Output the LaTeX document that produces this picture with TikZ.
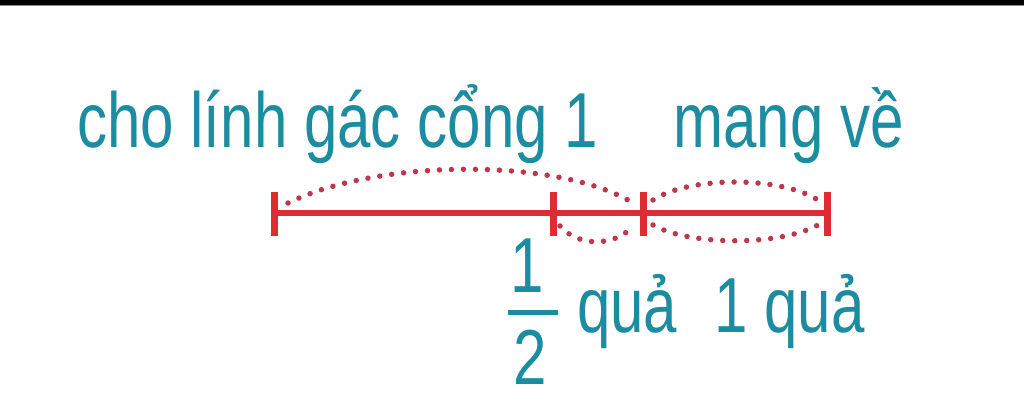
\documentclass[tikz,border=0pt]{standalone}
\usepackage{fontspec}
\newfontfamily\labfont[FakeStretch=0.77]{Liberation Sans}
\definecolor{txt}{RGB}{28,140,160}
\definecolor{segred}{RGB}{222,45,50}
\definecolor{dotred}{RGB}{190,55,75}
\begin{document}
\begin{tikzpicture}[x=1pt,y=1pt,
  lab/.style={text=txt,inner sep=0pt,font=\labfont\fontsize{78}{90}\selectfont},
  seg/.style={draw=segred,line width=6.5pt},
  tick/.style={draw=segred,line width=7pt},
  dots/.style={draw=dotred,line width=5.5pt,line cap=round,dash pattern=on 0pt off 12pt}]
\useasboundingbox (0,0) rectangle (1024,415);
\fill[white] (0,0) rectangle (1024,415);
\fill[black] (0,410) rectangle (1024,415);
\fill[black!45] (0,409) rectangle (1024,410);
% texts
\node[lab,anchor=base west] (t1) at (77,267) {cho lính gác cổng 1};
\node[lab,anchor=base west] (t2) at (673,267) {mang về};
\node[lab,anchor=base] (num) at (527,122) {1};
\node[lab,anchor=base] (den) at (530,31) {2};
\coordinate (barL) at (508,103);
\coordinate (barR) at (558,103);
\draw[txt,line width=5pt] (barL) -- (barR);
\node[lab,anchor=base west] (q1) at (577,83) {quả};
\node[lab,anchor=base west] (q2) at (714,83) {1 quả};
% segment points
\coordinate (A) at (274,202);
\coordinate (B) at (553,202);
\coordinate (C) at (643,202);
\coordinate (D) at (827,202);
\draw[seg] (A) -- (D);
\foreach \p in {A,B,C,D}{
  \draw[tick] ([yshift=21pt]\p) -- ([yshift=-23pt]\p);
}
% dotted arcs
\coordinate (u1s) at (288,212);
\coordinate (u1e) at (633,212);
\draw[dots] (u1s) .. controls (380,257) and (560,257) .. (u1e);
\coordinate (l1s) at (560,189);
\coordinate (l1e) at (633,189);
\draw[dots] (l1s) .. controls (578,168) and (615,168) .. (l1e);
\coordinate (u2s) at (653,215);
\coordinate (u2e) at (818,215);
\draw[dots] (u2s) .. controls (690,239) and (780,239) .. (u2e);
\coordinate (l2s) at (653,190);
\coordinate (l2e) at (818,190);
\draw[dots] (l2s) .. controls (690,169) and (780,169) .. (l2e);
\end{tikzpicture}
\end{document}
